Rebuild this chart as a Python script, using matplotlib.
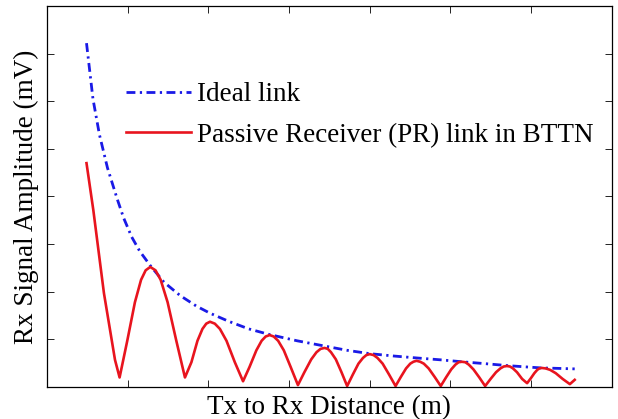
import matplotlib
matplotlib.use('Agg')
import matplotlib.pyplot as plt

plt.rcParams['font.family'] = ['Liberation Serif', 'DejaVu Serif']

# Ideal link (blue dash-dot)
ideal_x = [0.49, 0.57, 0.65, 0.75, 0.87, 0.95, 1.05, 1.15, 1.28, 1.45, 1.65, 1.85,
           2.02, 2.25, 2.5, 2.76, 3.1, 3.44, 3.72, 4.0, 4.3, 4.58, 4.88, 5.14,
           5.43, 5.70, 5.95, 6.13, 6.35, 6.54]
ideal_y = [7.22, 6.05, 5.3, 4.6, 3.95, 3.55, 3.15, 2.85, 2.55, 2.2, 1.92, 1.7,
           1.55, 1.38, 1.22, 1.1, 0.97, 0.86, 0.77, 0.70, 0.65, 0.61, 0.57, 0.53,
           0.49, 0.45, 0.42, 0.40, 0.39, 0.38]

# Passive Receiver (PR) link in BTTN (red)
pr_x = [0.49, 0.574, 0.706, 0.843, 0.90,
        0.995, 1.09, 1.166, 1.223, 1.28, 1.345, 1.409, 1.495, 1.603, 1.71,
        1.79, 1.865, 1.927, 1.974, 2.02, 2.08, 2.143, 2.225, 2.328, 2.43,
        2.51, 2.595, 2.66, 2.71, 2.76, 2.81, 2.865, 2.935, 3.02, 3.11,
        3.19, 3.275, 3.34, 3.39, 3.44, 3.48, 3.52, 3.58, 3.65, 3.72,
        3.79, 3.86, 3.916, 3.958, 4.0, 4.048, 4.096, 4.16, 4.24, 4.32,
        4.385, 4.45, 4.502, 4.541, 4.58, 4.625, 4.67, 4.73, 4.805, 4.88,
        4.945, 5.01, 5.062, 5.101, 5.14, 5.184, 5.227, 5.285, 5.358, 5.43,
        5.498, 5.565, 5.619, 5.66, 5.70, 5.738, 5.775, 5.825, 5.888, 5.95,
        5.995, 6.04, 6.076, 6.103, 6.13, 6.18, 6.235, 6.305, 6.39, 6.48, 6.54]
pr_y = [4.7, 3.72, 1.97, 0.57, 0.2,
        0.97, 1.78, 2.25, 2.45, 2.52, 2.45, 2.25, 1.78, 0.97, 0.2,
        0.52, 0.97, 1.22, 1.33, 1.37, 1.33, 1.22, 0.97, 0.52, 0.12,
        0.42, 0.77, 0.97, 1.06, 1.09, 1.06, 0.97, 0.77, 0.42, 0.04,
        0.31, 0.58, 0.73, 0.80, 0.82, 0.80, 0.73, 0.58, 0.31, 0.02,
        0.26, 0.49, 0.61, 0.67, 0.69, 0.67, 0.61, 0.49, 0.26, 0.02,
        0.21, 0.39, 0.49, 0.53, 0.55, 0.53, 0.49, 0.39, 0.21, 0.02,
        0.20, 0.37, 0.47, 0.52, 0.53, 0.52, 0.47, 0.37, 0.20, 0.02,
        0.17, 0.31, 0.39, 0.43, 0.44, 0.43, 0.39, 0.31, 0.17, 0.08,
        0.18, 0.29, 0.36, 0.39, 0.40, 0.39, 0.36, 0.29, 0.17, 0.06, 0.15]

fig = plt.figure(figsize=(6.18, 4.19), dpi=100)
ax = fig.add_axes([0.076, 0.0764, 0.914, 0.9093])

ax.plot(ideal_x, ideal_y, color='#1a1ae6', linestyle=(0, (3.2, 1.6, 0.8, 1.6)),
        linewidth=2.0, label='Ideal link')
ax.plot(pr_x, pr_y, color='#e8141e', linestyle='-', linewidth=1.9,
        label='Passive Receiver (PR) link in BTTN')

ax.set_xlim(0, 7)
ax.set_ylim(0, 8)
ax.set_xticks([1, 2, 3, 4, 5, 6])
ax.set_yticks([1, 2, 3, 4, 5, 6, 7])
ax.set_xticklabels([])
ax.set_yticklabels([])
ax.tick_params(direction='in', length=5, top=True, right=True, width=0.6)
for s in ax.spines.values():
    s.set_linewidth(0.9)

ax.set_xlabel('Tx to Rx Distance (m)', fontsize=19.5, labelpad=2)
ax.set_ylabel('Rx Signal Amplitude (mV)', fontsize=19.5, labelpad=2)

ax.legend(loc='upper left', bbox_to_anchor=(0.14, 0.80), frameon=False, fontsize=19.5,
          handlelength=2.4, handletextpad=0.22, labelspacing=0.58, borderaxespad=0,
          borderpad=0)

fig.savefig('out.png', dpi=100)
